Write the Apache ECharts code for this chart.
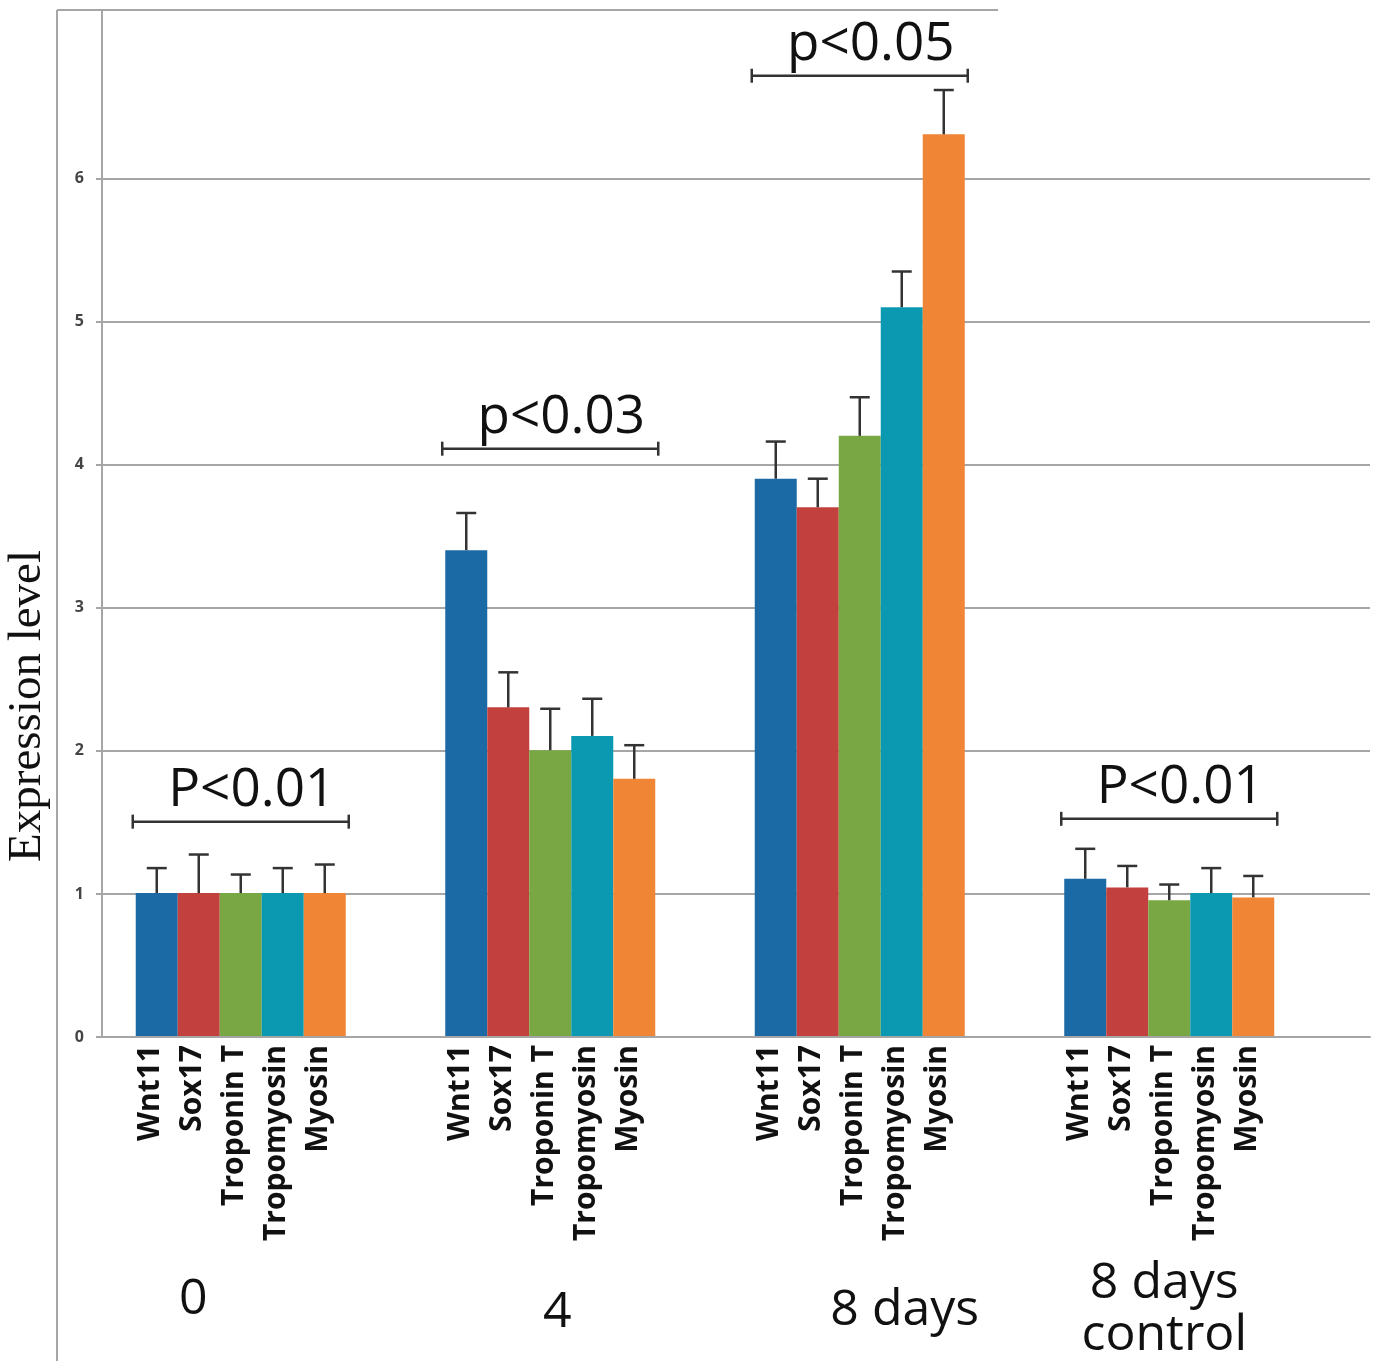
<!DOCTYPE html>
<html>
<head>
<meta charset="utf-8">
<script src="https://cdn.jsdelivr.net/npm/echarts@6/dist/echarts.min.js"></script>
<style>
  html, body { margin: 0; padding: 0; background: #fff; }
  #main { width: 1376px; height: 1361px; }
</style>
</head>
<body>
<div id="main"></div>
<script>
// data
var groups = ['0', '4', '8 days', '8 days\ncontrol'];
var genes = ['Wnt11', 'Sox17', 'Troponin T', 'Tropomyosin', 'Myosin'];
var colors = ['#1b6aa5', '#c2403d', '#79a743', '#0a99b0', '#ef8535'];

var wnt11 = [1.0, 3.40, 3.90, 1.10];
var sox17 = [1.0, 2.30, 3.70, 1.04];
var troponinT = [1.0, 2.00, 4.20, 0.95];
var tropomyosin = [1.0, 2.10, 5.10, 1.00];
var myosin = [1.0, 1.80, 6.31, 0.97];

// top of the error bars
var wnt11Err = [1.175, 3.66, 4.16, 1.31];
var sox17Err = [1.27, 2.545, 3.90, 1.19];
var troponinTErr = [1.13, 2.29, 4.47, 1.06];
var tropomyosinErr = [1.175, 2.36, 5.35, 1.175];
var myosinErr = [1.20, 2.035, 6.62, 1.12];

// significance brackets: group index, height, text
var bracketGroup = [0, 1, 2, 3];
var bracketY = [1.50, 4.11, 6.72, 1.52];
var bracketText = ['P<0.01', 'p<0.03', 'p<0.05', 'P<0.01'];

var yTicks = [0, 1, 2, 3, 4, 5, 6];

var values = [wnt11, sox17, troponinT, tropomyosin, myosin];
var errs = [wnt11Err, sox17Err, troponinTErr, tropomyosinErr, myosinErr];

var BAR_W = 42;
var Y_MAX = 7.18;

var myChart = echarts.init(document.getElementById('main'));

var barSeries = [];
var errData = [];
for (var k = 0; k < genes.length; k++) {
  barSeries.push({
    name: genes[k],
    type: 'bar',
    xAxisIndex: 1,
    yAxisIndex: 1,
    barWidth: BAR_W,
    barGap: '0%',
    itemStyle: { color: colors[k] },
    label: {
      show: true,
      position: 'bottom',
      distance: 9,
      rotate: 90,
      align: 'right',
      verticalAlign: 'middle',
      offset: [0, -6],
      formatter: '{a}',
      fontFamily: 'Open Sans',
      fontWeight: 'bold',
      fontSize: 30,
      color: '#111'
    },
    data: values[k]
  });
  for (var g = 0; g < groups.length; g++) {
    errData.push([g, k, values[k][g], errs[k][g]]);
  }
}

var bracketData = [];
for (var i = 0; i < bracketGroup.length; i++) {
  bracketData.push([bracketGroup[i], bracketY[i], bracketText[i]]);
}

var groupRich = {
  g0: { fontSize: 50, fontFamily: 'Open Sans', color: '#111', lineHeight: 52, padding: [32, 95, 0, 0] },
  g1: { fontSize: 50, fontFamily: 'Open Sans', color: '#111', lineHeight: 52, padding: [58, 0, 0, 14] },
  g2: { fontSize: 50, fontFamily: 'Open Sans', color: '#111', lineHeight: 52, padding: [54, 0, 0, 90] },
  g3: { fontSize: 50, fontFamily: 'Open Sans', color: '#111', lineHeight: 52, padding: [0, 10, 0, 0] }
};

var GRID_COLOR = '#a6a6a6';

option = {
  backgroundColor: '#fff',
  animation: false,
  grid: [
    // axes and grid lines
    { left: 102, right: 6, top: 10, bottom: 324 },
    // bars
    { left: 86, right: 52, top: 10, bottom: 324 }
  ],
  xAxis: [
    {
      gridIndex: 0,
      type: 'value',
      min: 0,
      max: 1,
      axisLine: { show: true, lineStyle: { color: GRID_COLOR, width: 2 } },
      axisTick: { show: false },
      axisLabel: { show: false },
      splitLine: { show: false }
    },
    {
      gridIndex: 1,
      type: 'category',
      data: groups,
      axisLine: { show: false },
      axisTick: { show: false },
      axisLabel: {
        interval: 0,
        margin: 222,
        formatter: function (v, idx) {
          return v.split('\n').map(function (s) {
            return '{g' + idx + '|' + s + '}';
          }).join('\n');
        },
        rich: groupRich
      }
    }
  ],
  yAxis: [
    {
      gridIndex: 0,
      type: 'value',
      min: 0,
      max: Y_MAX,
      interval: 1,
      axisLine: { show: true, lineStyle: { color: GRID_COLOR, width: 2 } },
      axisTick: {
        show: true,
        length: 6,
        customValues: yTicks,
        lineStyle: { color: GRID_COLOR, width: 2 }
      },
      axisLabel: {
        customValues: yTicks,
        margin: 18,
        formatter: '{n|{value}}',
        rich: {
          n: { fontFamily: 'Open Sans', fontWeight: 'bold', fontSize: 16, color: '#444' }
        }
      },
      splitLine: {
        show: true,
        lineStyle: { color: GRID_COLOR, width: 2 }
      }
    },
    {
      gridIndex: 1,
      type: 'value',
      min: 0,
      max: Y_MAX,
      show: false
    }
  ],
  series: barSeries.concat([
    {
      name: 'error',
      type: 'custom',
      xAxisIndex: 1,
      yAxisIndex: 1,
      z: 5,
      encode: { x: 0, y: 3 },
      renderItem: function (params, api) {
        var g = api.value(0);
        var k = api.value(1);
        var base = api.coord([g, api.value(2)]);
        var top = api.coord([g, api.value(3)]);
        var x = base[0] + (k - 2) * BAR_W;
        var style = { stroke: '#333', lineWidth: 2.5 };
        return {
          type: 'group',
          children: [
            { type: 'line', shape: { x1: x, y1: base[1], x2: x, y2: top[1] }, style: style },
            { type: 'line', shape: { x1: x - 10, y1: top[1], x2: x + 10, y2: top[1] }, style: style }
          ]
        };
      },
      data: errData
    },
    {
      name: 'significance',
      type: 'custom',
      xAxisIndex: 1,
      yAxisIndex: 1,
      z: 5,
      encode: { x: 0, y: 1 },
      renderItem: function (params, api) {
        var p = api.coord([api.value(0), api.value(1)]);
        var half = 108;
        var style = { stroke: '#333', lineWidth: 2.5 };
        return {
          type: 'group',
          children: [
            { type: 'line', shape: { x1: p[0] - half, y1: p[1], x2: p[0] + half, y2: p[1] }, style: style },
            { type: 'line', shape: { x1: p[0] - half, y1: p[1] - 7, x2: p[0] - half, y2: p[1] + 7 }, style: style },
            { type: 'line', shape: { x1: p[0] + half, y1: p[1] - 7, x2: p[0] + half, y2: p[1] + 7 }, style: style },
            {
              type: 'text',
              x: p[0] + 11,
              y: p[1] - 4,
              style: {
                text: api.value(2),
                font: '53px "Open Sans"',
                fill: '#111',
                align: 'center',
                verticalAlign: 'bottom'
              }
            }
          ]
        };
      },
      data: bracketData
    }
  ]),
  graphic: [
    // frame of the original picture
    { type: 'line', silent: true, shape: { x1: 57, y1: 10, x2: 998, y2: 10 }, style: { stroke: GRID_COLOR, lineWidth: 2 } },
    { type: 'line', silent: true, shape: { x1: 57, y1: 10, x2: 57, y2: 1361 }, style: { stroke: GRID_COLOR, lineWidth: 2 } },
    {
      type: 'text',
      x: 28,
      y: 706,
      rotation: Math.PI / 2,
      style: {
        text: 'Expression level',
        font: '47px "Liberation Serif"',
        fill: '#111',
        align: 'center',
        verticalAlign: 'middle'
      }
    }
  ]
};

myChart.setOption(option);
</script>
</body>
</html>
